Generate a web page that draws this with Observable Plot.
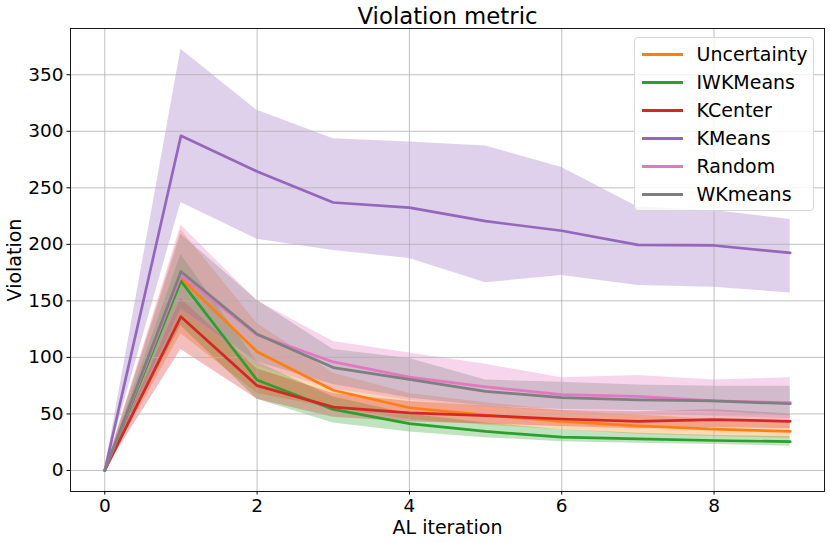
<!DOCTYPE html>
<html>
<head>
<meta charset="utf-8">
<script src="https://cdn.jsdelivr.net/npm/d3@7"></script>
<script src="https://cdn.jsdelivr.net/npm/@observablehq/plot@0.6"></script>
<style>
  html, body { margin: 0; padding: 0; background: white; }
  #wrap { position: relative; width: 830px; height: 543px; font-family: "DejaVu Sans", sans-serif; }
  #legend { position: absolute; left: 634px; top: 37px; width: 180px; height: 174px;
    box-sizing: border-box; border: 1px solid #d6d6d6; border-radius: 4px; background: rgba(255,255,255,0.8); }
  .row { position: absolute; left: 0; height: 28px; display: flex; align-items: center; }
  .sw { position: absolute; left: 6.5px; width: 41px; height: 2.7px; }
  .lab { position: absolute; left: 61.5px; font-size: 19px; white-space: nowrap; line-height: 1; }
</style>
</head>
<body>
<div id="wrap"><div id="chart"></div><div id="legend"></div></div>
<script>
const iterations = [0, 1, 2, 3, 4, 5, 6, 7, 8, 9];
const seriesNames = ["Uncertainty", "IWKMeans", "KCenter", "KMeans", "Random", "WKmeans"];
const seriesColors = ["#ff7f0e", "#2ca02c", "#d62728", "#9467bd", "#e377c2", "#7f7f7f"];

const uncertaintyMean  = [0, 170, 105, 71, 55.5, 49, 43.5, 39.5, 36.5, 34.5];
const uncertaintyLower = [0, 121, 68, 55, 45, 40, 36, 32, 30, 28.5];
const uncertaintyUpper = [0, 213, 130, 86, 68, 60, 53, 49, 45, 42];

const iwkmeansMean  = [0, 167.5, 80, 54, 41.5, 34.5, 29.5, 28, 26.5, 25.5];
const iwkmeansLower = [0, 128, 63, 42, 34, 29, 25.5, 24, 23, 21.5];
const iwkmeansUpper = [0, 191, 96, 65, 50, 42, 36, 33, 31, 30];

const kcenterMean  = [0, 136, 75, 56, 51, 48.5, 45.5, 43.5, 45, 43.5];
const kcenterLower = [0, 107, 63, 47, 43, 41, 39, 37, 38, 37];
const kcenterUpper = [0, 152, 90, 68, 61, 57, 53, 52, 54, 50];

const kmeansMean  = [0, 296, 264.5, 237, 232.5, 220.5, 212, 199.5, 199, 192.5];
const kmeansLower = [0, 237, 204.5, 194.5, 187.5, 166, 172.5, 163.5, 162, 157];
const kmeansUpper = [0, 372.5, 318.5, 293.5, 290.5, 287, 268, 233, 230, 222];

const randomMean  = [0, 172.5, 120, 96, 82.5, 74, 67, 65.5, 61.5, 60];
const randomLower = [0, 140, 92, 72, 62, 56, 52, 50, 48, 46];
const randomUpper = [0, 217, 150, 114, 104, 94, 82, 84, 80, 82];

const wkmeansMean  = [0, 176, 120.5, 91, 80.5, 70, 64.5, 62.5, 61.5, 59];
const wkmeansLower = [0, 143, 96, 76, 64, 57, 54, 53, 52, 48.5];
const wkmeansUpper = [0, 209, 150.5, 107, 99, 80, 78, 75.5, 74.5, 74.5];

const xTicks = [0, 2, 4, 6, 8];
const yTicks = [0, 50, 100, 150, 200, 250, 300, 350];

const seriesData = [
  [uncertaintyMean, uncertaintyLower, uncertaintyUpper],
  [iwkmeansMean, iwkmeansLower, iwkmeansUpper],
  [kcenterMean, kcenterLower, kcenterUpper],
  [kmeansMean, kmeansLower, kmeansUpper],
  [randomMean, randomLower, randomUpper],
  [wkmeansMean, wkmeansLower, wkmeansUpper]
];

const tables = seriesData.map(([m, lo, hi]) =>
  iterations.map((it, i) => ({it, mean: m[i], lo: lo[i], hi: hi[i]})));

const areas = tables.map((t, k) =>
  Plot.areaY(t, {x: "it", y1: "lo", y2: "hi", fill: seriesColors[k], fillOpacity: 0.3}));
const lines = tables.map((t, k) =>
  Plot.lineY(t, {x: "it", y: "mean", stroke: seriesColors[k], strokeWidth: 2.7}));

const chart = Plot.plot({
  width: 830,
  height: 543,
  marginLeft: 70,
  marginRight: 6,
  marginTop: 28,
  marginBottom: 52,
  x: {domain: [-0.45, 9.45]},
  y: {domain: [-18.6, 390.9]},
  style: {fontFamily: "DejaVu Sans", background: "white", color: "black"},
  marks: [
    ...areas,
    Plot.gridX({ticks: xTicks, stroke: "#b0b0b0", strokeOpacity: 0.8, strokeWidth: 1}),
    Plot.gridY({ticks: yTicks, stroke: "#b0b0b0", strokeOpacity: 0.8, strokeWidth: 1}),
    ...lines,
    Plot.frame({stroke: "black", strokeWidth: 0.9}),
    Plot.axisX({ticks: xTicks, fontSize: 18.5, tickSize: 3.5, tickPadding: 3.5, label: null}),
    Plot.axisY({ticks: yTicks, fontSize: 18.5, tickSize: 3.5, tickPadding: 3.5, label: null}),
    Plot.text(["Violation metric"], {frameAnchor: "top", lineAnchor: "middle", text: d => d, dy: -11.5, fontSize: 22.8}),
    Plot.text(["AL iteration"], {frameAnchor: "bottom", lineAnchor: "middle", text: d => d, dy: 36.4, fontSize: 19}),
    Plot.text(["Violation"], {frameAnchor: "left", lineAnchor: "middle", textAnchor: "middle", text: d => d, dx: -55.4, rotate: -90, fontSize: 19})
  ]
});
document.getElementById("chart").appendChild(chart);

const legend = document.getElementById("legend");
seriesNames.forEach((name, k) => {
  const row = document.createElement("div");
  row.className = "row";
  row.style.top = (2.3 + k * 28) + "px";
  row.style.width = "100%";
  const sw = document.createElement("div");
  sw.className = "sw";
  sw.style.background = seriesColors[k];
  const lab = document.createElement("div");
  lab.className = "lab";
  lab.textContent = name;
  row.appendChild(sw);
  row.appendChild(lab);
  legend.appendChild(row);
});
</script>
</body>
</html>
